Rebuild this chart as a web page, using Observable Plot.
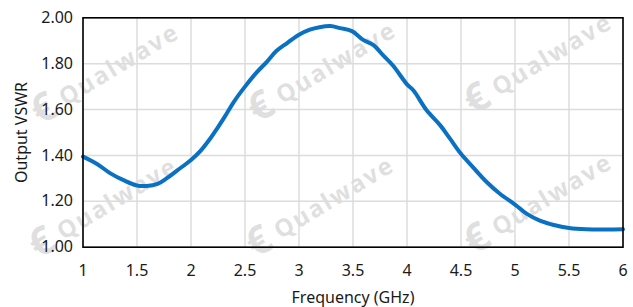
<!DOCTYPE html>
<html>
<head>
<meta charset="utf-8">
<script src="https://cdn.jsdelivr.net/npm/d3@7"></script>
<script src="https://cdn.jsdelivr.net/npm/@observablehq/plot@0.6"></script>
<style>
  html, body { margin: 0; padding: 0; background: #fff; }
  #wrap { position: relative; width: 633px; height: 307px; overflow: hidden; background: #fff; }
  #wrap svg { position: absolute; left: 0; top: 0; z-index: 1; }
  .wm { position: absolute; z-index: 0; pointer-events: none; font-family: "Open Sans", "Noto Sans", sans-serif; font-weight: 700; font-size: 24px; line-height: 34px; height: 34px;
        color: #000; opacity: 0.12; transform: rotate(-31deg); transform-origin: 0 50%; white-space: nowrap; letter-spacing: 2px; }
  .wm .logo { font-size: 40px; font-weight: 700; margin-right: 8px; vertical-align: -4px; letter-spacing: 0; }
</style>
</head>
<body>
<div id="wrap"></div>
<script>
const freq = [1.0, 1.13, 1.25, 1.38, 1.5, 1.59, 1.69, 1.78, 1.87, 2.0, 2.09, 2.18, 2.24, 2.31, 2.4, 2.5, 2.61, 2.7, 2.79, 2.89, 3.0, 3.1, 3.19, 3.29, 3.38, 3.49, 3.59, 3.69, 3.78, 3.87, 4.0, 4.06, 4.18, 4.31, 4.4, 4.5, 4.61, 4.74, 4.86, 5.0, 5.11, 5.23, 5.36, 5.5, 5.66, 5.85, 6.0];
const vswr = [1.395, 1.363, 1.323, 1.291, 1.269, 1.267, 1.276, 1.302, 1.334, 1.38, 1.421, 1.475, 1.516, 1.567, 1.636, 1.70, 1.763, 1.807, 1.855, 1.89, 1.926, 1.948, 1.959, 1.964, 1.955, 1.942, 1.905, 1.881, 1.836, 1.792, 1.71, 1.683, 1.598, 1.53, 1.472, 1.407, 1.349, 1.283, 1.233, 1.186, 1.145, 1.116, 1.097, 1.084, 1.078, 1.077, 1.078];
const xTicks = [1, 1.5, 2, 2.5, 3, 3.5, 4, 4.5, 5, 5.5, 6];
const yTicks = [1.0, 1.2, 1.4, 1.6, 1.8, 2.0];
const watermark = "Qualwave";

const data = freq.map((f, i) => ({f, v: vswr[i]}));

const chart = Plot.plot({
  width: 633,
  height: 307,
  marginLeft: 82.5,
  marginRight: 10.5,
  marginTop: 17.3,
  marginBottom: 60.3,
  style: {fontFamily: "'Noto Sans', 'Open Sans', sans-serif", fontSize: "16px", color: "#1a1a1a", background: "transparent"},
  x: {domain: [1, 6]},
  y: {domain: [1, 2]},
  marks: [
    Plot.gridX(xTicks, {stroke: "#dcdcdc", strokeOpacity: 1, strokeWidth: 1.5}),
    Plot.gridY(yTicks, {stroke: "#dcdcdc", strokeOpacity: 1, strokeWidth: 1.5}),
    Plot.axisX({ticks: xTicks, tickSize: 0, tickPadding: 17, tickFormat: d => String(d),
                label: "Frequency (GHz)", labelAnchor: "center", labelArrow: "none", labelOffset: 56}),
    Plot.axisY({ticks: yTicks, tickSize: 0, tickPadding: 10, tickFormat: d3.format(".2f"),
                label: "Output VSWR", labelAnchor: "center", labelArrow: "none", labelOffset: 67.5}),
    Plot.line(data, {x: "f", y: "v", curve: "catmull-rom", stroke: "#0a70c2", strokeWidth: 4, strokeLinejoin: "round"}),
    Plot.frame({stroke: "#000", strokeWidth: 1.6})
  ]
});
const wrap = document.getElementById("wrap");
wrap.appendChild(chart);
[[45, 107], [43, 241], [262, 105], [260, 240], [478, 97], [478, 237]].forEach(([cx, cy]) => {
  const d = document.createElement("div");
  d.className = "wm";
  d.style.left = (cx - 12) + "px"; d.style.top = (cy + 6 - 17) + "px";
  const logo = document.createElement("span");
  logo.className = "logo";
  logo.textContent = "\u20AC";
  d.appendChild(logo);
  d.appendChild(document.createTextNode(watermark));
  wrap.appendChild(d);
});
</script>
</body>
</html>
